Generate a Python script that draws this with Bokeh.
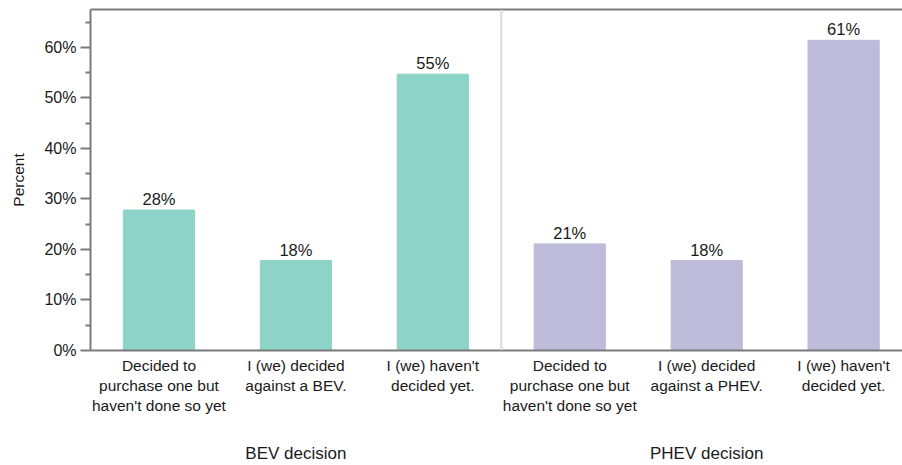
from bokeh.plotting import figure
from bokeh.models import (ColumnDataSource, Range1d, FixedTicker, LinearAxis,
                          PrintfTickFormatter, Span)
from bokeh.embed import file_html
from bokeh.resources import INLINE

# ---- data ----
groups = ["BEV decision", "PHEV decision"]
bev_labels = ["Decided to\npurchase one but\nhaven't done so yet",
              "I (we) decided\nagainst a BEV.",
              "I (we) haven't\ndecided yet."]
phev_labels = ["Decided to\npurchase one but\nhaven't done so yet",
               "I (we) decided\nagainst a PHEV.",
               "I (we) haven't\ndecided yet."]
bev_values = [27.8, 17.8, 54.7]
phev_values = [21.1, 17.8, 61.4]
colors = ["#8DD3C7", "#BEBADA"]
y_ticks = [0, 10, 20, 30, 40, 50, 60]
y_minor = [5, 15, 25, 35, 45, 55, 65]

FONT = "Liberation Sans"
FS = "15.5px"
FS_NUM = "16.5px"
FS_GROUP = "17px"
AXIS_COLOR = "#7a7a7a"
TEXT_COLOR = "#1a1a1a"

# positions derived from index: panel k starts at 3*k
xs, tops, cols, texts, labels = [], [], [], [], []
for k, (vals, labs) in enumerate([(bev_values, bev_labels), (phev_values, phev_labels)]):
    for i, v in enumerate(vals):
        xs.append(3 * k + i + 0.5)
        tops.append(v)
        cols.append(colors[k])
        texts.append(f"{round(v)}%")
        labels.append(labs[i])

src = ColumnDataSource(dict(x=xs, top=tops, color=cols, text=texts))

p = figure(width=902, height=465, output_backend="svg", toolbar_location=None,
           x_range=Range1d(0, 5.93), y_range=Range1d(0, 67.5),
           min_border_left=90, min_border_right=0, min_border_top=9,
           min_border_bottom=114, x_axis_location=None, y_axis_location=None)
p.grid.visible = False
p.outline_line_color = None
p.background_fill_color = "white"
p.border_fill_color = "white"

p.vbar(x="x", top="top", width=0.52, color="color", source=src)
p.text(x="x", y="top", text="text", source=src, text_align="center",
       text_baseline="bottom", y_offset=-2, text_font_size=FS_NUM,
       text_color=TEXT_COLOR, text_font={"value": FONT})

# divider between panels
p.add_layout(Span(location=3, dimension="height", line_color="#d9d9d9", line_width=2))

# y axis
yax = LinearAxis(ticker=FixedTicker(ticks=y_ticks, minor_ticks=y_minor),
                 formatter=PrintfTickFormatter(format="%d%%"),
                 axis_label="Percent", axis_label_text_font_style="normal",
                 axis_label_text_font_size=FS, axis_label_text_font=FONT,
                 axis_label_text_color=TEXT_COLOR, axis_label_standoff=14,
                 major_label_text_font_size="16px", major_label_text_font=FONT,
                 major_label_text_color=TEXT_COLOR, major_label_standoff=4,
                 axis_line_color=AXIS_COLOR, axis_line_width=2,
                 major_tick_line_color=AXIS_COLOR, major_tick_line_width=2,
                 minor_tick_line_color=AXIS_COLOR, minor_tick_line_width=2,
                 major_tick_out=10, major_tick_in=0, minor_tick_out=5, minor_tick_in=0)
p.add_layout(yax, "left")

# x axis with category labels
xax = LinearAxis(ticker=FixedTicker(ticks=xs, minor_ticks=[]),
                 major_label_overrides={x: l for x, l in zip(xs, labels)},
                 major_label_text_font_size=FS, major_label_text_font=FONT,
                 major_label_text_color=TEXT_COLOR, major_label_standoff=0,
                 major_label_text_line_height=1.2,
                 axis_line_color=AXIS_COLOR, axis_line_width=2,
                 major_tick_line_color=None, minor_tick_line_color=None)
p.add_layout(xax, "below")

# group axis
gax = LinearAxis(ticker=FixedTicker(ticks=[1.5, 4.5], minor_ticks=[]),
                 major_label_overrides={1.5: groups[0], 4.5: groups[1]},
                 major_label_text_font_size=FS_GROUP, major_label_text_font=FONT,
                 major_label_text_color=TEXT_COLOR, major_label_standoff=20,
                 axis_line_color=None, major_tick_line_color=None,
                 minor_tick_line_color=None)
p.add_layout(gax, "below")

# top frame line
tax = LinearAxis(ticker=FixedTicker(ticks=[]), axis_line_color=AXIS_COLOR,
                 axis_line_width=2, major_tick_line_color=None,
                 minor_tick_line_color=None, major_label_text_font_size="0px")
p.add_layout(tax, "above")

open("out.html", "w").write(file_html(p, INLINE))
